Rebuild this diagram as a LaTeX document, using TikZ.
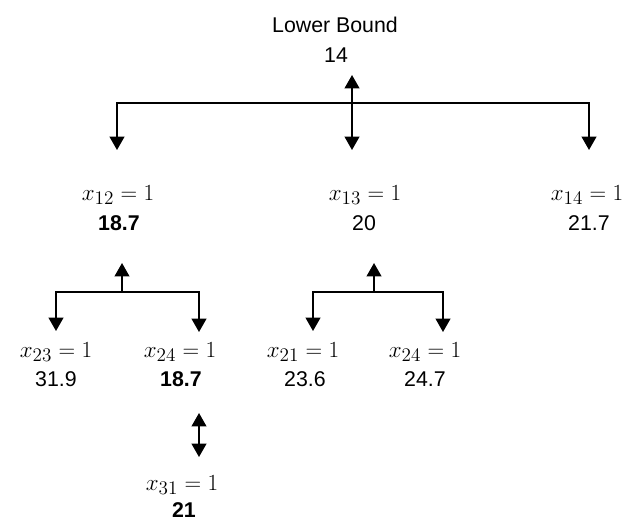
\documentclass[tikz,border=0pt]{standalone}
\usepackage[no-math]{fontspec}
\setmainfont{Liberation Sans}
\usepackage{amsmath}
\usetikzlibrary{arrows.meta,positioning}

\begin{document}
\begin{tikzpicture}[x=0.75pt, y=-0.75pt, >={Triangle[width=11pt,length=10pt]},
  every node/.style={font=\fontsize{16}{19}\selectfont, inner sep=0pt},
  var/.style={anchor=base, font=\fontsize{19}{22}\selectfont},
  val/.style={anchor=base},
  link/.style={line width=1.4pt}]
  \useasboundingbox (0,0) rectangle (624,522);
  % root
  \node[val] (lb) at (335,32) {Lower Bound};
  \node[val] (lb val) at (336,62) {14};
  % first level
  \node[var] (x12) at (118,200) {$x_{12}=1$};
  \node[val] (x12 val) at (119,230) {\textbf{18.7}};
  \node[var] (x13) at (365,200) {$x_{13}=1$};
  \node[val] (x13 val) at (364,230) {20};
  \node[var] (x14) at (587,200) {$x_{14}=1$};
  \node[val] (x14 val) at (589,230) {21.7};
  % second level
  \node[var] (x23) at (56,357) {$x_{23}=1$};
  \node[val] (x23 val) at (56,386) {31.9};
  \node[var] (x24a) at (180,357) {$x_{24}=1$};
  \node[val] (x24a val) at (181,386) {\textbf{18.7}};
  \node[var] (x21) at (303,357) {$x_{21}=1$};
  \node[val] (x21 val) at (305,386) {23.6};
  \node[var] (x24b) at (425,357) {$x_{24}=1$};
  \node[val] (x24b val) at (425,386) {24.7};
  % third level
  \node[var] (x31) at (182,490) {$x_{31}=1$};
  \node[val] (x31 val) at (184,517) {\textbf{21}};

  % branching points
  \coordinate (root up) at (352,75);
  \coordinate (root down) at (352,150);
  \coordinate (j12) at (117,103);
  \coordinate (j14) at (589,103);
  \coordinate (d12) at (117,150);
  \coordinate (d14) at (589,150);
  \coordinate (l up) at (122,263);
  \coordinate (l mid) at (122,292);
  \coordinate (j23) at (56,292);
  \coordinate (j24a) at (199,292);
  \coordinate (d23) at (56,331);
  \coordinate (d24a) at (199,332);
  \coordinate (r up) at (374,263);
  \coordinate (r mid) at (374,292);
  \coordinate (j21) at (313,292);
  \coordinate (j24b) at (443,292);
  \coordinate (d21) at (313,331);
  \coordinate (d24b) at (443,332);
  \coordinate (x31 up) at (199,413);
  \coordinate (x31 down) at (199,457);

  \draw[link, <->] (d12) -- (j12) -- (j14) -- (d14);
  \draw[link, <->] (root up) -- (root down);
  \draw[link, <->] (d23) -- (j23) -- (j24a) -- (d24a);
  \draw[link, ->] (l mid) -- (l up);
  \draw[link, <->] (d21) -- (j21) -- (j24b) -- (d24b);
  \draw[link, ->] (r mid) -- (r up);
  \draw[link, <->] (x31 up) -- (x31 down);
\end{tikzpicture}
\end{document}
